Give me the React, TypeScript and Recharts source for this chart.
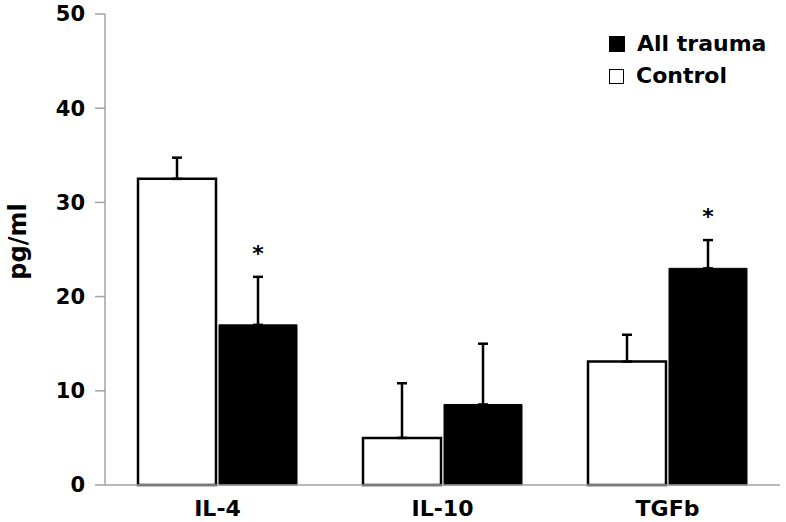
import React from 'react';
import { BarChart, Bar, XAxis, YAxis, ErrorBar, LabelList } from 'recharts';

const categories = ['IL-4', 'IL-10', 'TGFb'];
const controlValues = [32.5, 5.0, 13.1];
const controlErrors = [2.25, 5.8, 2.85];
const traumaValues = [17.0, 8.55, 23.0];
const traumaErrors = [5.1, 6.45, 3.0];
const traumaSig = ['*', '', '*'];
const yTicks = [0, 10, 20, 30, 40, 50];

const data = categories.map((name, i) => ({
  name,
  control: controlValues[i],
  controlErr: [0, controlErrors[i]],
  trauma: traumaValues[i],
  traumaErr: [0, traumaErrors[i]],
  sig: traumaSig[i],
  tErr: traumaErrors[i],
}));

const FONT = '"DejaVu Sans", sans-serif';
const AXIS = '#a3a3a3';

const StarLabel = (props: any) => {
  const { x, y, width, height, value } = props;
  if (!value || !value.sig) return null;
  const pxPerUnit = height / value.trauma;
  const top = y - value.tErr * pxPerUnit;
  return (
    <text x={x + width / 2} y={top - 16} textAnchor="middle" fontFamily={FONT} fontWeight={700} fontSize={22} fill="#000">
      {value.sig}
    </text>
  );
};

const LegendBox = () => (
  <div style={{ position: 'absolute', left: 609, top: 28, fontFamily: FONT, fontWeight: 700, fontSize: 22, color: '#000', lineHeight: '32px' }}>
    <div style={{ display: 'flex', alignItems: 'center' }}>
      <span style={{ width: 16, height: 16, background: '#000', display: 'inline-block', marginRight: 12 }} />
      All trauma
    </div>
    <div style={{ display: 'flex', alignItems: 'center' }}>
      <span style={{ width: 13, height: 13, border: '1.5px solid #000', background: '#fff', display: 'inline-block', marginRight: 12 }} />
      Control
    </div>
  </div>
);

export default function App() {
  return (
    <div style={{ position: 'absolute', left: 0, top: 0, width: 786, height: 522, background: '#fff' }}>
      <BarChart width={786} height={522} data={data} margin={{ top: 14, right: 6, left: 0, bottom: 0 }} barSize={78} barGap={3}>
        <XAxis
          dataKey="name"
          height={37}
          tickLine={false}
          tickSize={0}
          tickMargin={15}
          axisLine={{ stroke: AXIS, strokeWidth: 1.5 }}
          tick={{ fill: '#000', fontSize: 22, fontWeight: 700, fontFamily: FONT }}
        />
        <YAxis
          width={105}
          domain={[0, 50]}
          ticks={yTicks}
          interval={0}
          tickSize={10}
          tickMargin={10}
          axisLine={{ stroke: AXIS, strokeWidth: 1.5 }}
          tickLine={{ stroke: AXIS, strokeWidth: 1.5 }}
          tick={{ fill: '#000', fontSize: 21, fontWeight: 700, fontFamily: FONT }}
          label={{
            content: (p: any) => {
              const vb = p.viewBox;
              const cx = 18;
              const cy = vb.y + vb.height / 2 - 8;
              return (
                <text x={cx} y={cy} transform={`rotate(-90 ${cx} ${cy})`} textAnchor="middle" dominantBaseline="central" fontFamily={FONT} fontWeight={700} fontSize={24} fill="#000">
                  pg/ml
                </text>
              );
            },
          }}
        />
        <Bar dataKey="control" name="Control" fill="#fff" stroke="#000" strokeWidth={2.5} isAnimationActive={false}>
          <ErrorBar dataKey="controlErr" direction="y" width={5} stroke="#000" strokeWidth={2.5} isAnimationActive={false} />
        </Bar>
        <Bar dataKey="trauma" name="All trauma" fill="#000" stroke="#000" strokeWidth={1} isAnimationActive={false}>
          <ErrorBar dataKey="traumaErr" direction="y" width={5} stroke="#000" strokeWidth={2.5} isAnimationActive={false} />
          <LabelList dataKey={(d: any) => d} content={<StarLabel />} />
        </Bar>
      </BarChart>
      <LegendBox />
    </div>
  );
}
